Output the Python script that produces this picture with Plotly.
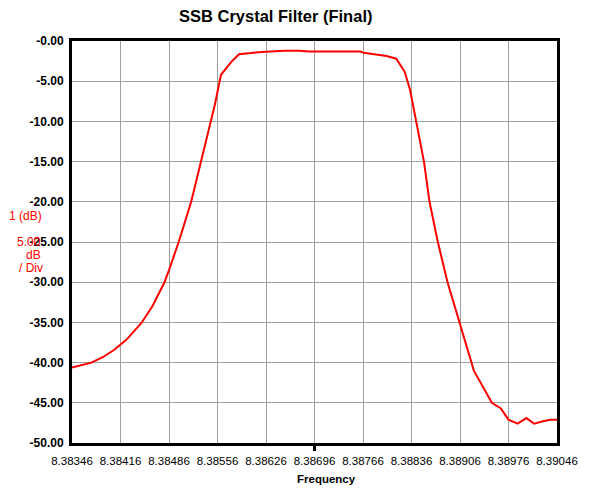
import plotly.graph_objects as go

freq = [8.38346, 8.38374, 8.38391, 8.38407, 8.38424, 8.38446, 8.38462, 8.38479,
        8.38486, 8.38500, 8.38518, 8.38532, 8.38546, 8.38552, 8.38561, 8.38576,
        8.38587, 8.38600, 8.38615, 8.38626, 8.38653, 8.38674, 8.38688, 8.38719,
        8.38762, 8.38767, 8.38781, 8.38800, 8.38814, 8.38826, 8.38834, 8.38843,
        8.38854, 8.38862, 8.38874, 8.38888, 8.38905, 8.38926, 8.38952, 8.38965,
        8.38976, 8.38989, 8.39002, 8.39013, 8.39026, 8.39036, 8.39046]
gain_db = [-40.6, -40.0, -39.3, -38.4, -37.2, -35.1, -33.0, -30.1,
           -28.5, -25.0, -20.0, -15.0, -10.0, -8.0, -4.2, -2.6,
           -1.65, -1.5, -1.4, -1.33, -1.2, -1.2, -1.3, -1.3,
           -1.3, -1.45, -1.65, -1.87, -2.2, -3.8, -6.1, -10.0,
           -15.0, -20.0, -25.0, -30.0, -35.0, -41.0, -45.0, -45.7,
           -47.1, -47.6, -46.9, -47.6, -47.3, -47.1, -47.1]

x_ticks = [8.38346, 8.38416, 8.38486, 8.38556, 8.38626, 8.38696,
           8.38766, 8.38836, 8.38906, 8.38976, 8.39046]
x_tick_text = ["8.38346", "8.38416", "8.38486", "8.38556", "8.38626", "8.38696",
               "8.38766", "8.38836", "8.38906", "8.38976", "8.39046"]
y_ticks = [0, -5, -10, -15, -20, -25, -30, -35, -40, -45, -50]
y_tick_text = ["-0.00", "-5.00", "-10.00", "-15.00", "-20.00", "-25.00",
               "-30.00", "-35.00", "-40.00", "-45.00", "-50.00"]

FONT = "Liberation Sans, Arial, sans-serif"

# page offset of the plotly div (body margin)
OFF = 8
PL, PR, PT, PB = 72, 562, 41, 443   # plot area in page pixels
W, H = 590 - OFF, 489 - OFF

fig = go.Figure()
fig.add_trace(go.Scatter(x=freq, y=gain_db, mode="lines",
                         line=dict(color="#ff0000", width=2),
                         hoverinfo="skip", showlegend=False))

fig.update_layout(
    width=W, height=H,
    margin=dict(l=PL - OFF, r=W - (PR - OFF), t=PT - OFF, b=H - (PB - OFF)),
    paper_bgcolor="white", plot_bgcolor="white",
    font=dict(family=FONT, color="black"),
    showlegend=False,
)
fig.update_xaxes(
    range=[x_ticks[0], x_ticks[-1]], tickvals=x_ticks, ticktext=x_tick_text,
    showgrid=True, gridcolor="#a0a0a0", gridwidth=1,
    showline=True, linecolor="black", linewidth=3, mirror=True,
    ticks="", zeroline=False, ticklabelstandoff=5,
    tickfont=dict(family=FONT, size=11.5, color="black"),
)
fig.update_yaxes(
    range=[-50, 0], tickvals=y_ticks, ticktext=y_tick_text,
    showgrid=True, gridcolor="#a0a0a0", gridwidth=1,
    showline=True, linecolor="black", linewidth=3, mirror=True,
    ticks="", zeroline=False, ticklabelstandoff=3,
    tickfont=dict(family=FONT, size=12, color="black", weight="bold"),
)

PW, PH = PR - PL, PB - PT

def px(x):
    return (x - PL) / PW

def py(y):
    return (PB - y) / PH

# center tick mark below the x-axis
fig.add_shape(type="line", xref="x", yref="paper", x0=x_ticks[5], x1=x_ticks[5],
              y0=0, y1=-8 / PH, line=dict(color="black", width=3))

annos = [
    dict(text="<b>SSB Crystal Filter (Final)</b>", x=px(278), y=py(16),
         font=dict(size=16.5, color="black"), xanchor="center", yanchor="middle"),
    dict(text="<b>Frequency</b>", x=px(297), y=py(479),
         font=dict(size=11.5, color="black"), xanchor="left", yanchor="middle"),
    dict(text="1 (dB)", x=px(44), y=py(216),
         font=dict(size=12, color="#ff0000"), xanchor="right", yanchor="middle"),
    dict(text="5.00", x=px(43), y=py(242),
         font=dict(size=12, color="#ff0000"), xanchor="right", yanchor="middle"),
    dict(text="dB", x=px(43), y=py(255),
         font=dict(size=12, color="#ff0000"), xanchor="right", yanchor="middle"),
    dict(text="/ Div", x=px(45), y=py(268),
         font=dict(size=12, color="#ff0000"), xanchor="right", yanchor="middle"),
]
for a in annos:
    fig.add_annotation(xref="paper", yref="paper", showarrow=False,
                       font_family=FONT, **a)

fig.write_html("out.html")
